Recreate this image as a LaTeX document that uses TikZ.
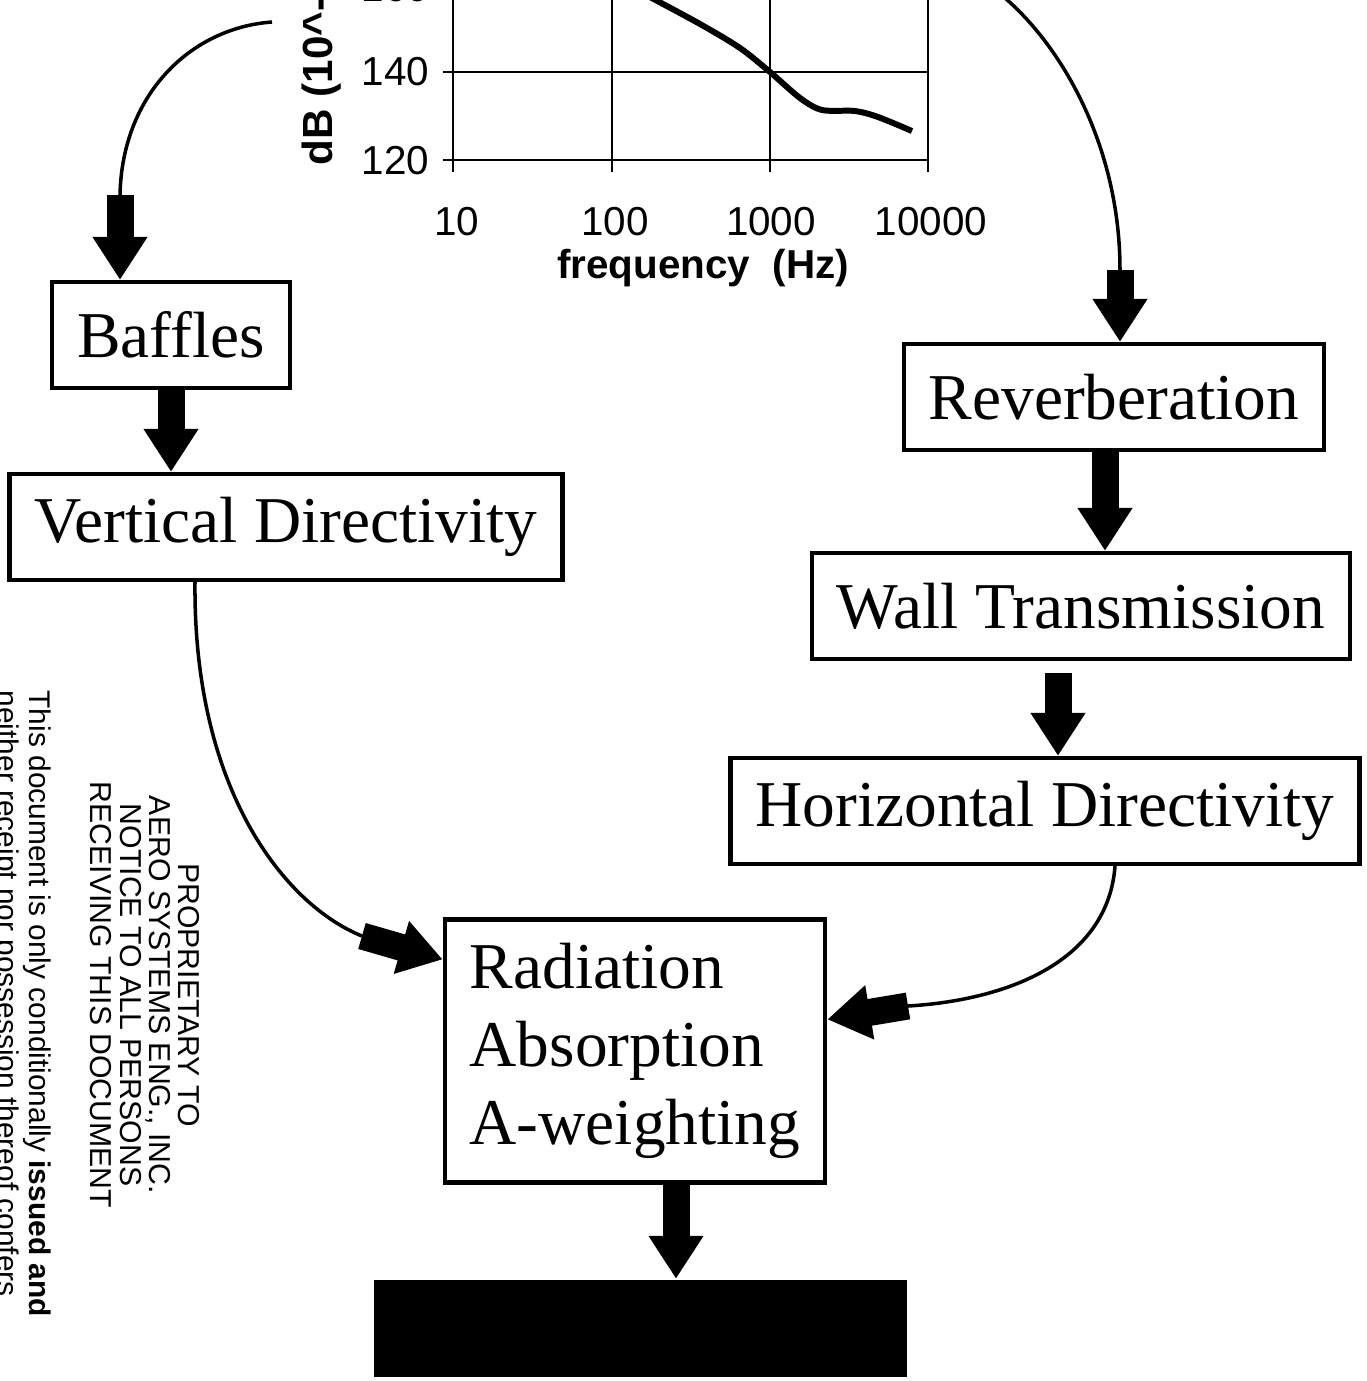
\documentclass[tikz,border=0pt]{standalone}
\usepackage{fontspec}
\setmainfont{Liberation Serif}
\newfontfamily\arial{Liberation Sans}
\usetikzlibrary{arrows.meta}

\begin{document}
\begin{tikzpicture}[x=0.1mm, y=-0.1mm,
	box/.style={draw, line width=1.2pt, inner xsep=2.5mm, minimum height=10.6mm, font=\fontsize{18.6}{22.2}\selectfont},
	bigarrow/.style={line width=2.7mm, -{Triangle[width=5.2mm,length=4.3mm]}},
	link/.style={line width=1pt},
	gridline/.style={line width=0.7pt},
	ticklab/.style={font=\arial\fontsize{11.5}{12}\selectfont, inner sep=0pt}]

	\useasboundingbox (0,0) rectangle (1366,1381);
	\clip (0,0) rectangle (1366,1381);

	\draw[gridline] (453,0) -- (453,172);
	\draw[gridline] (612,0) -- (612,172);
	\draw[gridline] (770,0) -- (770,172);
	\draw[gridline] (928,0) -- (928,172);
	\draw[gridline] (443,72) -- (928,72);
	\draw[gridline] (443,160) -- (928,160);
	\draw[line width=1.7pt, line join=round] plot[smooth] coordinates {(648,-4) (700,24) (740,48) (770,72) (800,98) (822,110) (855,111) (878,117) (912,131)};

	\node[ticklab, anchor=east] (y160) at (430,-12) {160};
	\node[ticklab, anchor=east] (y140) at (430,72) {140};
	\node[ticklab, anchor=east] (y120) at (430,161) {120};
	\node[ticklab] (x10) at (457,222) {10};
	\node[ticklab] (x100) at (615,222) {100};
	\node[ticklab] (x1000) at (771,222) {1000};
	\node[ticklab] (x10000) at (931,222) {10000};
	\node[ticklab, font=\arial\bfseries\fontsize{11.5}{12}\selectfont] (xlab) at (703,268) {frequency\ \ (Hz)};
	\node[rotate=90, anchor=west, inner sep=0pt, font=\arial\bfseries\fontsize{12}{12}\selectfont] (ylab) at (322,166) {dB (10\textasciicircum{}-};

	\node[box] (baffles) at (171,335) {Baffles};
	\node[box] (vdir) at (286,527) {Vertical Directivity};
	\node[box] (reverb) at (1114,397) {Reverberation};
	\node[box] (wall) at (1081,606) {Wall Transmission};
	\node[box] (hdir) at (1045,811) {Horizontal Directivity};
	\node[box, minimum width=37.6mm, minimum height=26.3mm, align=left] (rad) at (635,1051) {Radiation\\Absorption\\A-weighting};
	\node[fill=black, minimum width=53.3mm, minimum height=9.7mm] (output) at (640,1328) {};

	\coordinate (lstart) at (272,22);
	\coordinate (lbend) at (120,195);
	\coordinate (rstart) at (1005,-2);
	\coordinate (rbend) at (1120,270);
	\coordinate (vbend) at (362,936);
	\coordinate (hbend) at (908,1006);

	\draw[link] (lstart) .. controls (190,28) and (122,95) .. (lbend);
	\draw[bigarrow] (lbend) -- (lbend |- baffles.north);
	\draw[link] (rstart) .. controls (1065,50) and (1120,150) .. (rbend);
	\draw[bigarrow] (rbend) -- (rbend |- reverb.north);

	\draw[bigarrow] (baffles.south) -- (baffles.south |- vdir.north);
	\draw[bigarrow] ([xshift=-0.9mm]reverb.south) -- ([xshift=-0.9mm]reverb.south |- wall.north);
	\draw[bigarrow] ([xshift=-2.3mm,yshift=-1.2mm]wall.south) -- ([xshift=-2.3mm]wall.south |- hdir.north);
	\draw[bigarrow] ([xshift=4.1mm]rad.south) -- ([xshift=4.1mm]rad.south |- output.north);

	\draw[link] ([xshift=-9.1mm]vdir.south) .. controls (193,790) and (285,905) .. (vbend);
	\draw[bigarrow] (vbend) -- ([yshift=-4.2mm]rad.north west);
	\draw[link] ([xshift=7mm]hdir.south) .. controls (1108,960) and (1010,1000) .. (hbend);
	\draw[bigarrow] (hbend) -- ([yshift=-10.2mm]rad.north east);

	\node[rotate=-90, align=center, font=\arial\fontsize{8.6}{8.3}\selectfont] (notice) at (145,995) {PROPRIETARY TO\\AERO SYSTEMS ENG., INC.\\NOTICE TO ALL PERSONS\\RECEIVING THIS DOCUMENT};
	\node[rotate=-90, anchor=west, inner sep=0pt, font=\arial\fontsize{8.5}{8.5}\selectfont] (disc1) at (37,690) {This document is only conditionally \textbf{issued and}};
	\node[rotate=-90, anchor=west, inner sep=0pt, font=\arial\fontsize{8.5}{8.5}\selectfont] (disc2) at (5,690) {neither receipt nor possession thereof confers};

\end{tikzpicture}
\end{document}
